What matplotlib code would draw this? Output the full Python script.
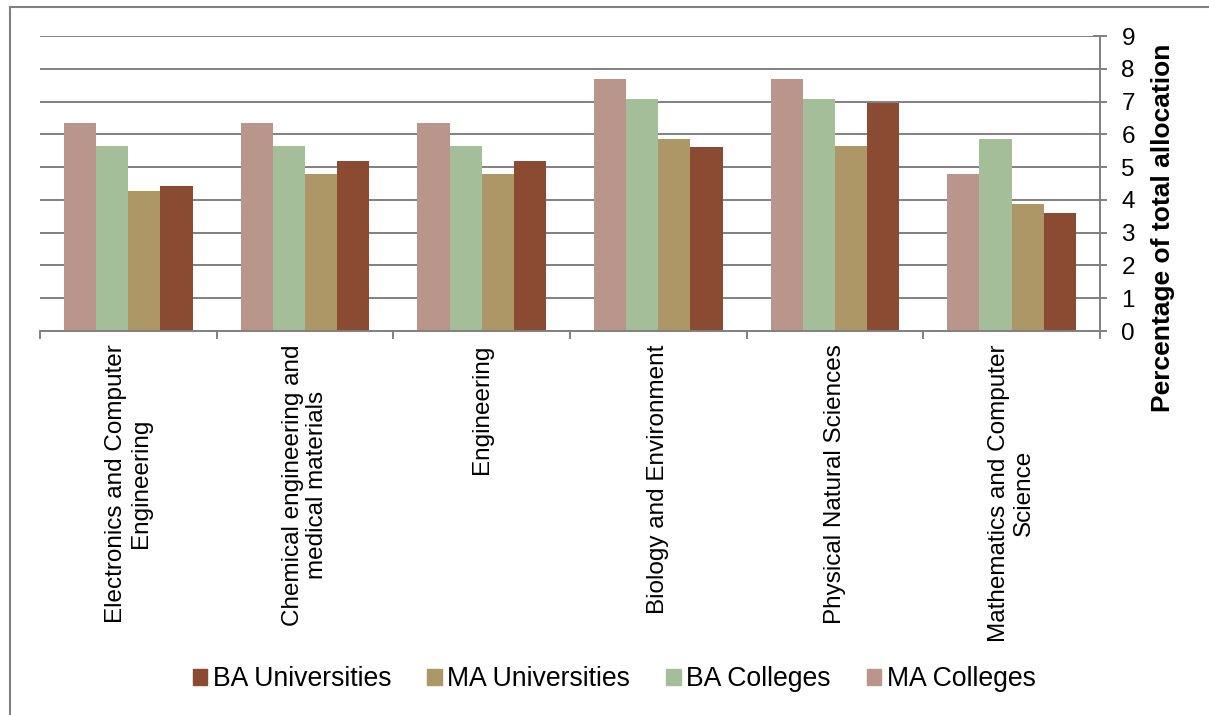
import numpy as np
import matplotlib.pyplot as plt
from matplotlib.patches import Patch
from matplotlib.lines import Line2D

plt.rcParams['font.family'] = ['Liberation Sans', 'DejaVu Sans']

categories = [
    "Electronics and Computer\nEngineering",
    "Chemical engineering and\nmedical materials",
    "Engineering",
    "Biology and Environment",
    "Physical Natural Sciences",
    "Mathematics and Computer\nScience",
]
ma_colleges = [6.35, 6.35, 6.35, 7.70, 7.70, 4.78]
ba_colleges = [5.65, 5.65, 5.65, 7.07, 7.07, 5.87]
ma_universities = [4.28, 4.80, 4.80, 5.85, 5.66, 3.89]
ba_universities = [4.41, 5.20, 5.20, 5.60, 6.95, 3.60]

series = [
    ("MA Colleges", ma_colleges, "#b9958c"),
    ("BA Colleges", ba_colleges, "#a3be98"),
    ("MA Universities", ma_universities, "#ad9766"),
    ("BA Universities", ba_universities, "#8b4a32"),
]

grid_col = "#808080"

fig = plt.figure(figsize=(12.09, 7.15), dpi=100)
ax = fig.add_axes([0.0331, 0.537, 0.8767, 0.4126])

x = np.arange(len(categories))
w = 0.182
for i, (name, vals, col) in enumerate(series):
    ax.bar(x + (i - 1.5) * w, vals, width=w, color=col, label=name, zorder=2)

ax.set_xlim(-0.5, len(categories) - 0.5)
ax.set_ylim(0, 9)
ax.set_yticks(range(10))
ax.yaxis.tick_right()
ax.tick_params(axis='y', direction='inout', length=10, width=1.4, color=grid_col,
               labelsize=17.5, pad=10.5)
ax.grid(axis='y', color=grid_col, linewidth=1.4, zorder=0)
ax.set_axisbelow(True)

# category ticks sit on the group boundaries
ax.set_xticks(np.arange(-0.5, len(categories)))
ax.set_xticklabels([])
ax.tick_params(axis='x', direction='out', length=6, width=1.4, color=grid_col)
for xi, lab in zip(x, categories):
    ax.text(xi, -0.4, lab, rotation=90, ha='center', va='top', multialignment='center',
            fontsize=17.5, linespacing=1.15)

for s in ['left', 'top']:
    ax.spines[s].set_visible(False)
for s in ['right', 'bottom']:
    ax.spines[s].set_color(grid_col)
    ax.spines[s].set_linewidth(1.4)

fig.text(0.962, 0.682, "Percentage of total allocation", rotation=90, ha='center', va='center',
         fontsize=19, fontweight='bold')

handles = [Patch(color=c, label=n) for n, _, c in series[::-1]]
fig.legend(handles=handles, loc='center', bbox_to_anchor=(0.508, 0.05), ncol=4, frameon=False,
           fontsize=19.2, handlelength=0.55, handleheight=0.55, handletextpad=0.2,
           columnspacing=1.35)

# outer frame
fig.add_artist(Line2D([10 / 1209, 10 / 1209], [0, 1 - 7 / 715], transform=fig.transFigure,
                      color="#808080", linewidth=1.5))
fig.add_artist(Line2D([10 / 1209, 1], [1 - 7 / 715, 1 - 7 / 715], transform=fig.transFigure,
                      color="#808080", linewidth=1.5))

fig.savefig("out.png", dpi=100)
